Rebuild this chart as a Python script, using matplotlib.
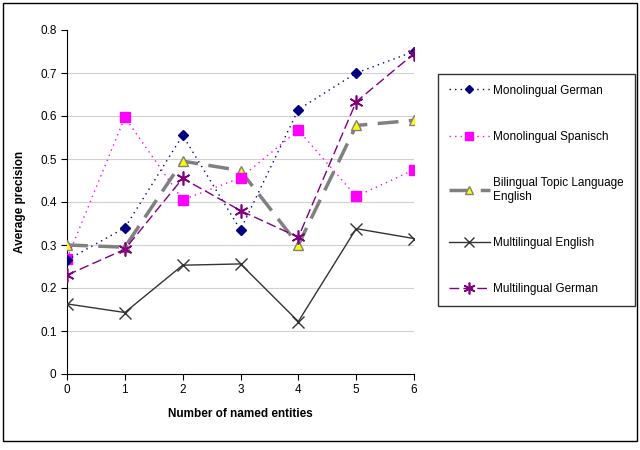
import matplotlib
matplotlib.use('Agg')
import matplotlib.pyplot as plt
from matplotlib.patches import Rectangle

plt.rcParams['font.family'] = ['Liberation Sans', 'DejaVu Sans']

# Daten
entities = [0, 1, 2, 3, 4, 5, 6]
mono_german = [0.265, 0.34, 0.555, 0.335, 0.615, 0.70, 0.75]
mono_spanisch = [0.268, 0.597, 0.405, 0.456, 0.567, 0.413, 0.475]
bilingual_english = [0.30, 0.295, 0.495, 0.473, 0.30, 0.578, 0.59]
multi_english = [0.163, 0.143, 0.253, 0.256, 0.122, 0.338, 0.315]
multi_german = [0.23, 0.29, 0.455, 0.38, 0.318, 0.633, 0.745]
y_ticks = [0, 0.1, 0.2, 0.3, 0.4, 0.5, 0.6, 0.7, 0.8]

fig = plt.figure(figsize=(6.4, 4.5), dpi=100)
ax = fig.add_axes([67 / 640, 1 - 374 / 450, 347 / 640, 344 / 450])

# Rahmen um die Figur
fig.patches.append(Rectangle((3 / 640, 1 - 441 / 450), 634 / 640, 438 / 450,
                             transform=fig.transFigure, fill=False,
                             edgecolor='black', linewidth=1))

ax.plot(entities, mono_german, color='#000080', linestyle=(0, (1, 3)), linewidth=1,
        marker='D', markersize=5, label='Monolingual German', zorder=5)
ax.plot(entities, mono_spanisch, color='#ff00ff', linestyle=(0, (1, 3)), linewidth=1,
        marker='s', markersize=7, label='Monolingual Spanisch', zorder=4)
ax.plot(entities, bilingual_english, color='#808080', linestyle=(0, (6, 3)), linewidth=2.5,
        marker='^', markersize=7, markerfacecolor='#ffff00', markeredgecolor='#808080',
        markeredgewidth=1, label='Bilingual Topic Language\nEnglish', zorder=3)
ax.plot(entities, multi_english, color='#333333', linestyle='-', linewidth=1,
        marker='x', markersize=9, markeredgewidth=1, label='Multilingual English', zorder=3)
ax.plot(entities, multi_german, color='#800080', linestyle=(0, (7, 3)), linewidth=1,
        marker=(6, 2, 0), markersize=10, markeredgewidth=1.2,
        label='Multilingual German', zorder=6)

ax.set_xlim(0, 6)
ax.set_ylim(0, 0.8)
ax.set_xticks(entities)
ax.set_yticks(y_ticks)
ax.set_yticklabels(['0', '0.1', '0.2', '0.3', '0.4', '0.5', '0.6', '0.7', '0.8'])
ax.tick_params(labelsize=8.5, direction='out', length=4)
for yt in y_ticks[1:-1]:
    ax.axhline(yt, color='#d0d0d0', linewidth=0.8, zorder=0)
ax.spines['top'].set_visible(False)
ax.spines['right'].set_visible(False)
ax.set_xlabel('Number of named entities', fontsize=8.5, fontweight='bold', labelpad=8)
ax.set_ylabel('Average precision', fontsize=8.5, fontweight='bold', labelpad=10)

leg = fig.legend(loc='upper left', bbox_to_anchor=(432 / 640, 1 - 68 / 450),
                 fontsize=8.5, frameon=True, fancybox=False, edgecolor='black',
                 labelspacing=2.9, handlelength=3.5, handletextpad=0.3,
                 borderpad=0.9, markerscale=0.85)
leg.get_frame().set_linewidth(1)

fig.savefig('out.png', dpi=100)
